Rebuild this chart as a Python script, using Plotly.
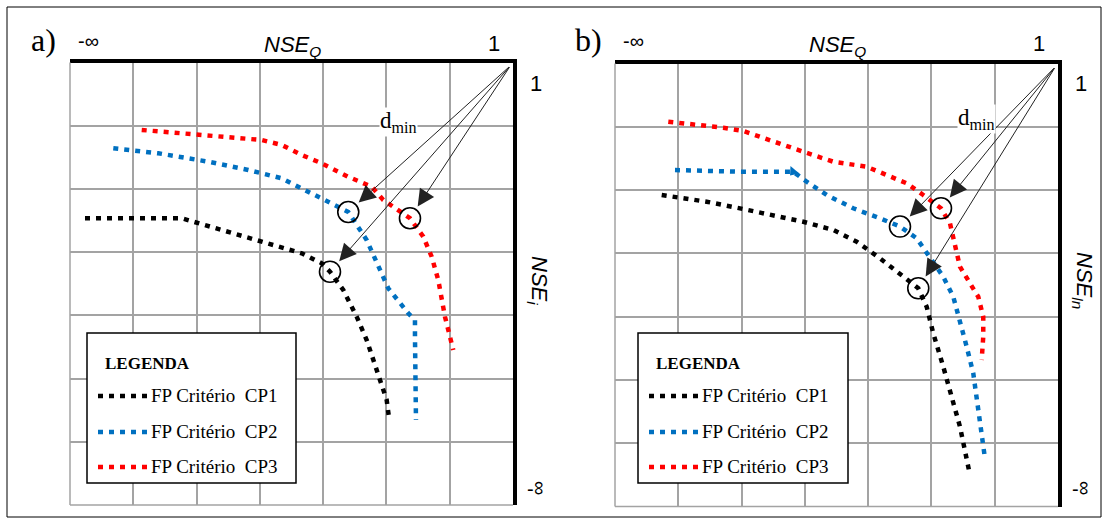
import plotly.graph_objects as go

W, H = 1108, 523

# Pareto fronts on a grid scale: 0 is the "-inf" edge, 7 is the value 1.
# Panel a) NSE_Q (x) against NSE_i (y)
a_cp1_x = [0.237, 1.765, 2.397, 3.029, 3.661, 3.977, 4.108, 4.318, 4.530, 4.688, 4.846, 5.004, 5.045]
a_cp1_y = [4.536, 4.536, 4.351, 4.165, 3.982, 3.824, 3.691, 3.401, 2.979, 2.610, 2.136, 1.661, 1.345]

a_cp2_x = [0.684, 1.395, 2.185, 2.817, 3.345, 3.819, 4.397, 4.688, 4.846, 5.029, 5.345, 5.451, 5.451, 5.467]
a_cp2_y = [5.643, 5.564, 5.431, 5.300, 5.168, 4.931, 4.635, 4.192, 3.824, 3.428, 3.033, 2.927, 2.663, 1.345]

a_cp3_x = [1.133, 1.817, 2.501, 3.029, 3.345, 3.661, 3.977, 4.392, 4.767, 4.950, 5.372, 5.582, 5.715, 5.819, 5.925, 6.056]
a_cp3_y = [5.933, 5.880, 5.827, 5.774, 5.695, 5.537, 5.406, 5.194, 5.036, 4.825, 4.536, 4.245, 3.928, 3.560, 2.979, 2.452]

# Panel b) NSE_Q (x) against NSE_ln (y)
b_cp1_x = [0.738, 1.449, 1.975, 2.501, 2.975, 3.449, 3.819, 4.187, 4.555, 4.792, 4.925, 5.029, 5.187, 5.293, 5.451, 5.609]
b_cp1_y = [4.922, 4.816, 4.711, 4.606, 4.500, 4.369, 4.184, 3.922, 3.631, 3.448, 3.157, 2.737, 2.209, 1.841, 1.261, 0.498]

b_cp2_x = [0.948, 1.975, 2.817, 3.029, 3.345, 3.765, 4.187, 4.503, 4.767, 4.977, 5.187, 5.345, 5.451, 5.557, 5.661, 5.740, 5.846]
b_cp2_y = [5.317, 5.290, 5.290, 5.132, 4.922, 4.712, 4.554, 4.424, 4.238, 3.947, 3.631, 3.315, 2.947, 2.525, 2.105, 1.577, 0.762]

b_cp3_x = [0.842, 1.343, 1.711, 2.027, 2.501, 2.975, 3.449, 3.977, 4.293, 4.609, 4.871, 5.151, 5.293, 5.372, 5.451, 5.609, 5.740, 5.819, 5.819, 5.794]
b_cp3_y = [6.080, 6.028, 5.985, 5.933, 5.764, 5.606, 5.448, 5.369, 5.238, 5.107, 4.922, 4.712, 4.475, 4.105, 3.789, 3.527, 3.315, 2.999, 2.683, 2.315]

# Minimum-distance solutions (CP1, CP2, CP3) and the ideal point
a_best_x = [4.108, 4.397, 5.372]
a_best_y = [3.691, 4.635, 4.536]
b_best_x = [4.792, 4.503, 5.151]
b_best_y = [3.448, 4.424, 4.712]
ideal_x, ideal_y = 7.0, 7.0

# vertex on the CP2 front of panel b where a small pointer sits
b_cp2_kink = 2

series_names = ["FP Critério\u00a0 CP1", "FP Critério\u00a0 CP2", "FP Critério\u00a0 CP3"]
series_colors = ["#000000", "#0070C0", "#FF0000"]

SANS = "Liberation Sans, Arial, sans-serif"
SERIF = "Liberation Serif, Times New Roman, serif"
DOT = "5px,6px"


def fx(px):
    return px / W


def fy(py):
    return 1 - py / H


fig = go.Figure()

panels = [
    dict(xa="x", ya="y", fronts=[(a_cp1_x, a_cp1_y), (a_cp2_x, a_cp2_y), (a_cp3_x, a_cp3_y)],
         best=(a_best_x, a_best_y)),
    dict(xa="x2", ya="y2", fronts=[(b_cp1_x, b_cp1_y), (b_cp2_x, b_cp2_y), (b_cp3_x, b_cp3_y)],
         best=(b_best_x, b_best_y)),
]

annotations = []
for p in panels:
    for (xs, ys), name, col in zip(p["fronts"], series_names, series_colors):
        fig.add_trace(go.Scatter(x=xs, y=ys, mode="lines", name=name, showlegend=False,
                                 line=dict(color=col, width=4.5, dash=DOT),
                                 xaxis=p["xa"], yaxis=p["ya"]))
    bx, by = p["best"]
    fig.add_trace(go.Scatter(x=bx, y=by, mode="markers", showlegend=False,
                             marker=dict(symbol="circle-open", size=21, color="black",
                                         line=dict(width=1.6, color="black")),
                             xaxis=p["xa"], yaxis=p["ya"]))
    # d_min arrows from the ideal point to each chosen solution
    for x, y in zip(bx, by):
        annotations.append(dict(x=x, y=y, ax=ideal_x - 0.04, ay=ideal_y - 0.05,
                                xref=p["xa"], yref=p["ya"], axref=p["xa"], ayref=p["ya"],
                                text="", showarrow=True, arrowhead=2, arrowsize=3.4,
                                arrowwidth=1, arrowcolor="#222222", standoff=14))

fig.add_trace(go.Scatter(x=[b_cp2_x[b_cp2_kink]], y=[b_cp2_y[b_cp2_kink]], mode="markers",
                         showlegend=False, xaxis="x2", yaxis="y2",
                         marker=dict(symbol="triangle-down", angle=40, size=10, color="#0070C0")))

grid = dict(range=[0, 7], dtick=1, tick0=0, showgrid=True, gridcolor="#a3a3a3", gridwidth=1.5,
            zeroline=False, showticklabels=False, ticks="", showline=True, linecolor="black",
            linewidth=4, fixedrange=True)

fig.update_layout(
    width=W, height=H, margin=dict(l=0, r=0, t=0, b=0),
    paper_bgcolor="white", plot_bgcolor="white", showlegend=False,
    xaxis=dict(grid, domain=[fx(70), fx(513)], side="top", anchor="y"),
    yaxis=dict(grid, domain=[fy(505), fy(62.5)], side="right", anchor="x"),
    xaxis2=dict(grid, domain=[fx(615), fx(1058)], side="top", anchor="y2"),
    yaxis2=dict(grid, domain=[fy(506.5), fy(63.5)], side="right", anchor="x2"),
)

shapes = []
# outer frame
shapes.append(dict(type="rect", xref="paper", yref="paper", x0=fx(7), x1=fx(1101), y0=fy(517), y1=fy(7),
                   line=dict(color="black", width=1), layer="below"))
# left and bottom grid edges
for xa, ya in [("x", "y"), ("x2", "y2")]:
    shapes.append(dict(type="line", xref=xa + " domain", yref=ya + " domain", x0=0, x1=0, y0=0, y1=1,
                       line=dict(color="#a3a3a3", width=1.5)))
    shapes.append(dict(type="line", xref=xa + " domain", yref=ya + " domain", x0=0, x1=1, y0=0, y1=0,
                       line=dict(color="#a3a3a3", width=1.5)))

# legends
for box_l, box_r in [(87, 296), (638, 848)]:
    shapes.append(dict(type="rect", xref="paper", yref="paper", x0=fx(box_l), x1=fx(box_r),
                       y0=fy(483), y1=fy(333), line=dict(color="black", width=1.5),
                       fillcolor="white"))
    annotations.append(dict(x=fx(box_l + 16), y=fy(363), xref="paper", yref="paper", text="<b>LEGENDA</b>",
                            showarrow=False, xanchor="left", yanchor="middle",
                            font=dict(family=SERIF, size=17, color="black")))
    for k, (name, col) in enumerate(zip(series_names, series_colors)):
        yy = [396, 432, 467][k]
        shapes.append(dict(type="line", xref="paper", yref="paper", x0=fx(box_l + 11), x1=fx(box_l + 60),
                           y0=fy(yy), y1=fy(yy), line=dict(color=col, width=4.5, dash=DOT)))
        annotations.append(dict(x=fx(box_l + 62), y=fy(yy - 1), xref="paper", yref="paper", text=name,
                                showarrow=False, xanchor="left", yanchor="middle",
                                font=dict(family=SERIF, size=19, color="black")))

# axis texts
for dx, tag, ylab in [(0, "a)", "<i>NSE<sub>i</sub></i>"), (545, "b)", "<i>NSE<sub>ln</sub></i>")]:
    def t(px, py, text, font, size, **kw):
        annotations.append(dict(x=fx(px + dx), y=fy(py), xref="paper", yref="paper", text=text,
                                showarrow=False, xanchor="center", yanchor="middle",
                                font=dict(family=font, size=size, color="black"), **kw))
    t(43, 40, tag, SERIF, 32)
    t(88, 41, "-∞", SANS, 20)
    t(292, 46, "<i>NSE<sub>Q</sub></i>", SANS, 22)
    t(494, 43, "1", SANS, 22)
    t(536, 83, "1", SANS, 22)
    t(538, 280, ylab, SANS, 22, textangle=90)
    t(530, 489, "-", SANS, 20)
    t(540, 488, "∞", SANS, 20, textangle=90)
    t(398 + [0, 33][dx > 0], 122 - [0, 3][dx > 0], "d<sub>min</sub>", SERIF, 23,
      bgcolor="white", borderpad=0)

fig.update_layout(shapes=shapes, annotations=annotations)
fig.write_html("out.html")
